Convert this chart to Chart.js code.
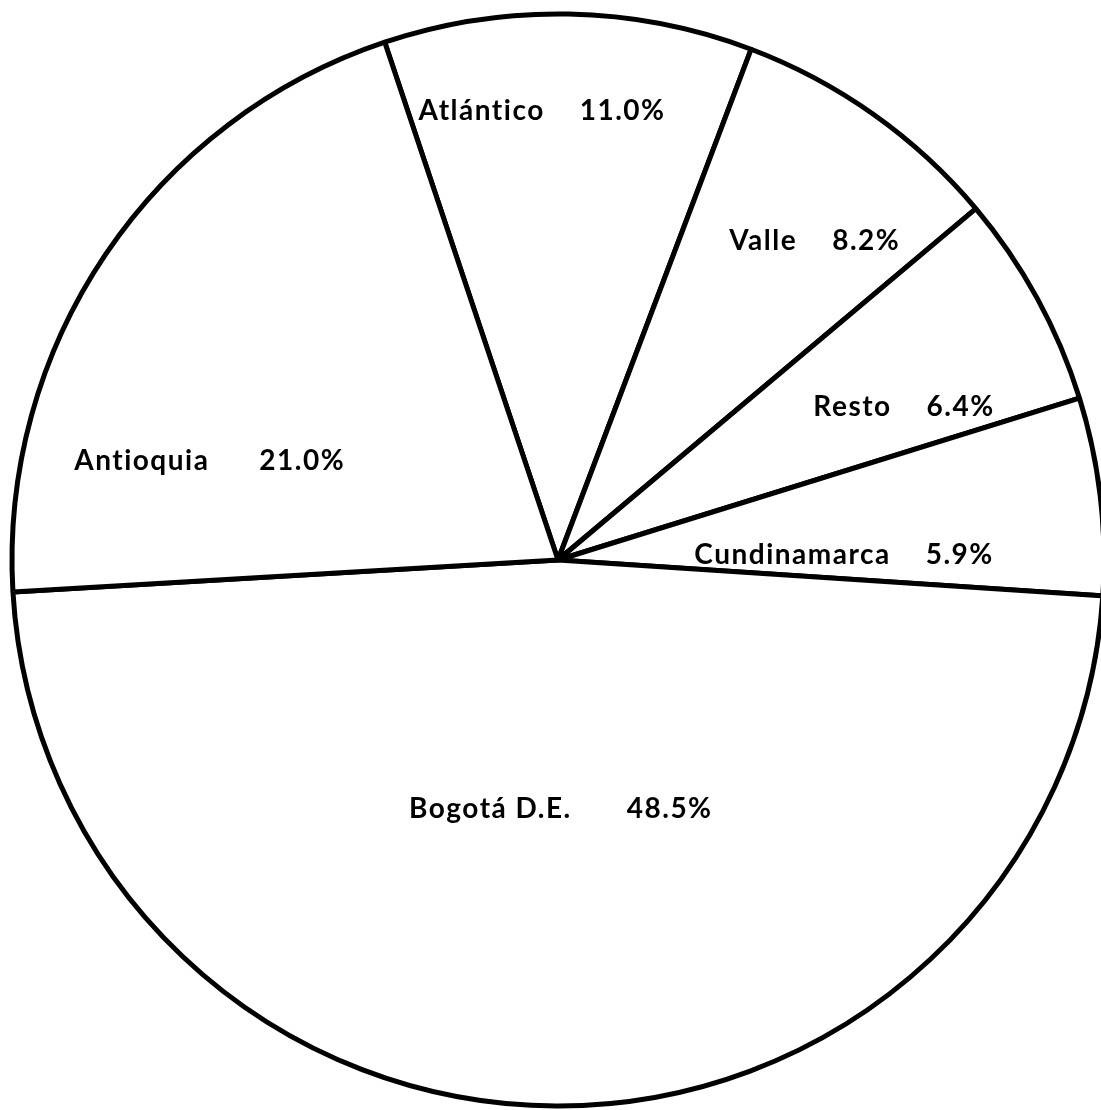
<!DOCTYPE html>
<html>
<head>
<meta charset="utf-8">
<script src="https://cdn.jsdelivr.net/npm/chart.js@4"></script>
<style>
  html, body { margin: 0; padding: 0; background: #fff; overflow: hidden; }
  #wrap { width: 1101px; height: 1110px; }
</style>
</head>
<body>
<div id="wrap"><canvas id="pie"></canvas></div>
<script>
const regions = ['Atlántico', 'Valle', 'Resto', 'Cundinamarca', 'Bogotá D.E.', 'Antioquia'];
const shares = [11.0, 8.2, 6.4, 5.9, 48.5, 21.0];
const shareLabels = ['11.0%', '8.2%', '6.4%', '5.9%', '48.5%', '21.0%'];

// where each label sits in its slice: fraction along the arc, fraction of the radius
const labelAlong = [0.42, 0.62, 0.71, 0.77, 0.495, 0.256];
const labelOut = [0.823, 0.75, 0.693, 0.524, 0.456, 0.663];
const labelGap = [35, 35, 35, 35, 55, 50];

const sliceLabels = {
    id: 'sliceLabels',
    afterDatasetsDraw(chart) {
        const ctx = chart.ctx;
        const arcs = chart.getDatasetMeta(0).data;
        ctx.save();
        ctx.font = 'bold 28px Lato';
        ctx.letterSpacing = '1.5px';
        ctx.fillStyle = '#000';
        ctx.textBaseline = 'middle';
        ctx.textAlign = 'left';
        arcs.forEach((arc, i) => {
            const p = arc.getProps(['x', 'y', 'startAngle', 'endAngle', 'outerRadius'], true);
            const a = p.startAngle + labelAlong[i] * (p.endAngle - p.startAngle);
            const r = p.outerRadius * labelOut[i];
            const cx = p.x + Math.cos(a) * r;
            const cy = p.y + Math.sin(a) * r;
            const w1 = ctx.measureText(regions[i]).width;
            const w2 = ctx.measureText(shareLabels[i]).width;
            const left = cx - (w1 + labelGap[i] + w2) / 2;
            ctx.fillText(regions[i], left, cy);
            ctx.fillText(shareLabels[i], left + w1 + labelGap[i], cy);
        });
        ctx.restore();
    }
};

new Chart(document.getElementById('pie'), {
    type: 'pie',
    data: {
        labels: regions,
        datasets: [{
            data: shares,
            backgroundColor: '#ffffff',
            borderColor: '#000000',
            borderWidth: 5,
            clip: false,
        }]
    },
    options: {
        responsive: true,
        maintainAspectRatio: false,
        animation: false,
        rotation: -18.5,
        radius: 546,
        layout: {
            padding: { left: 15, top: 10, right: 0, bottom: 0 }
        },
        plugins: {
            legend: { display: false },
            tooltip: { enabled: false },
        },
    },
    plugins: [sliceLabels],
});
</script>
</body>
</html>
